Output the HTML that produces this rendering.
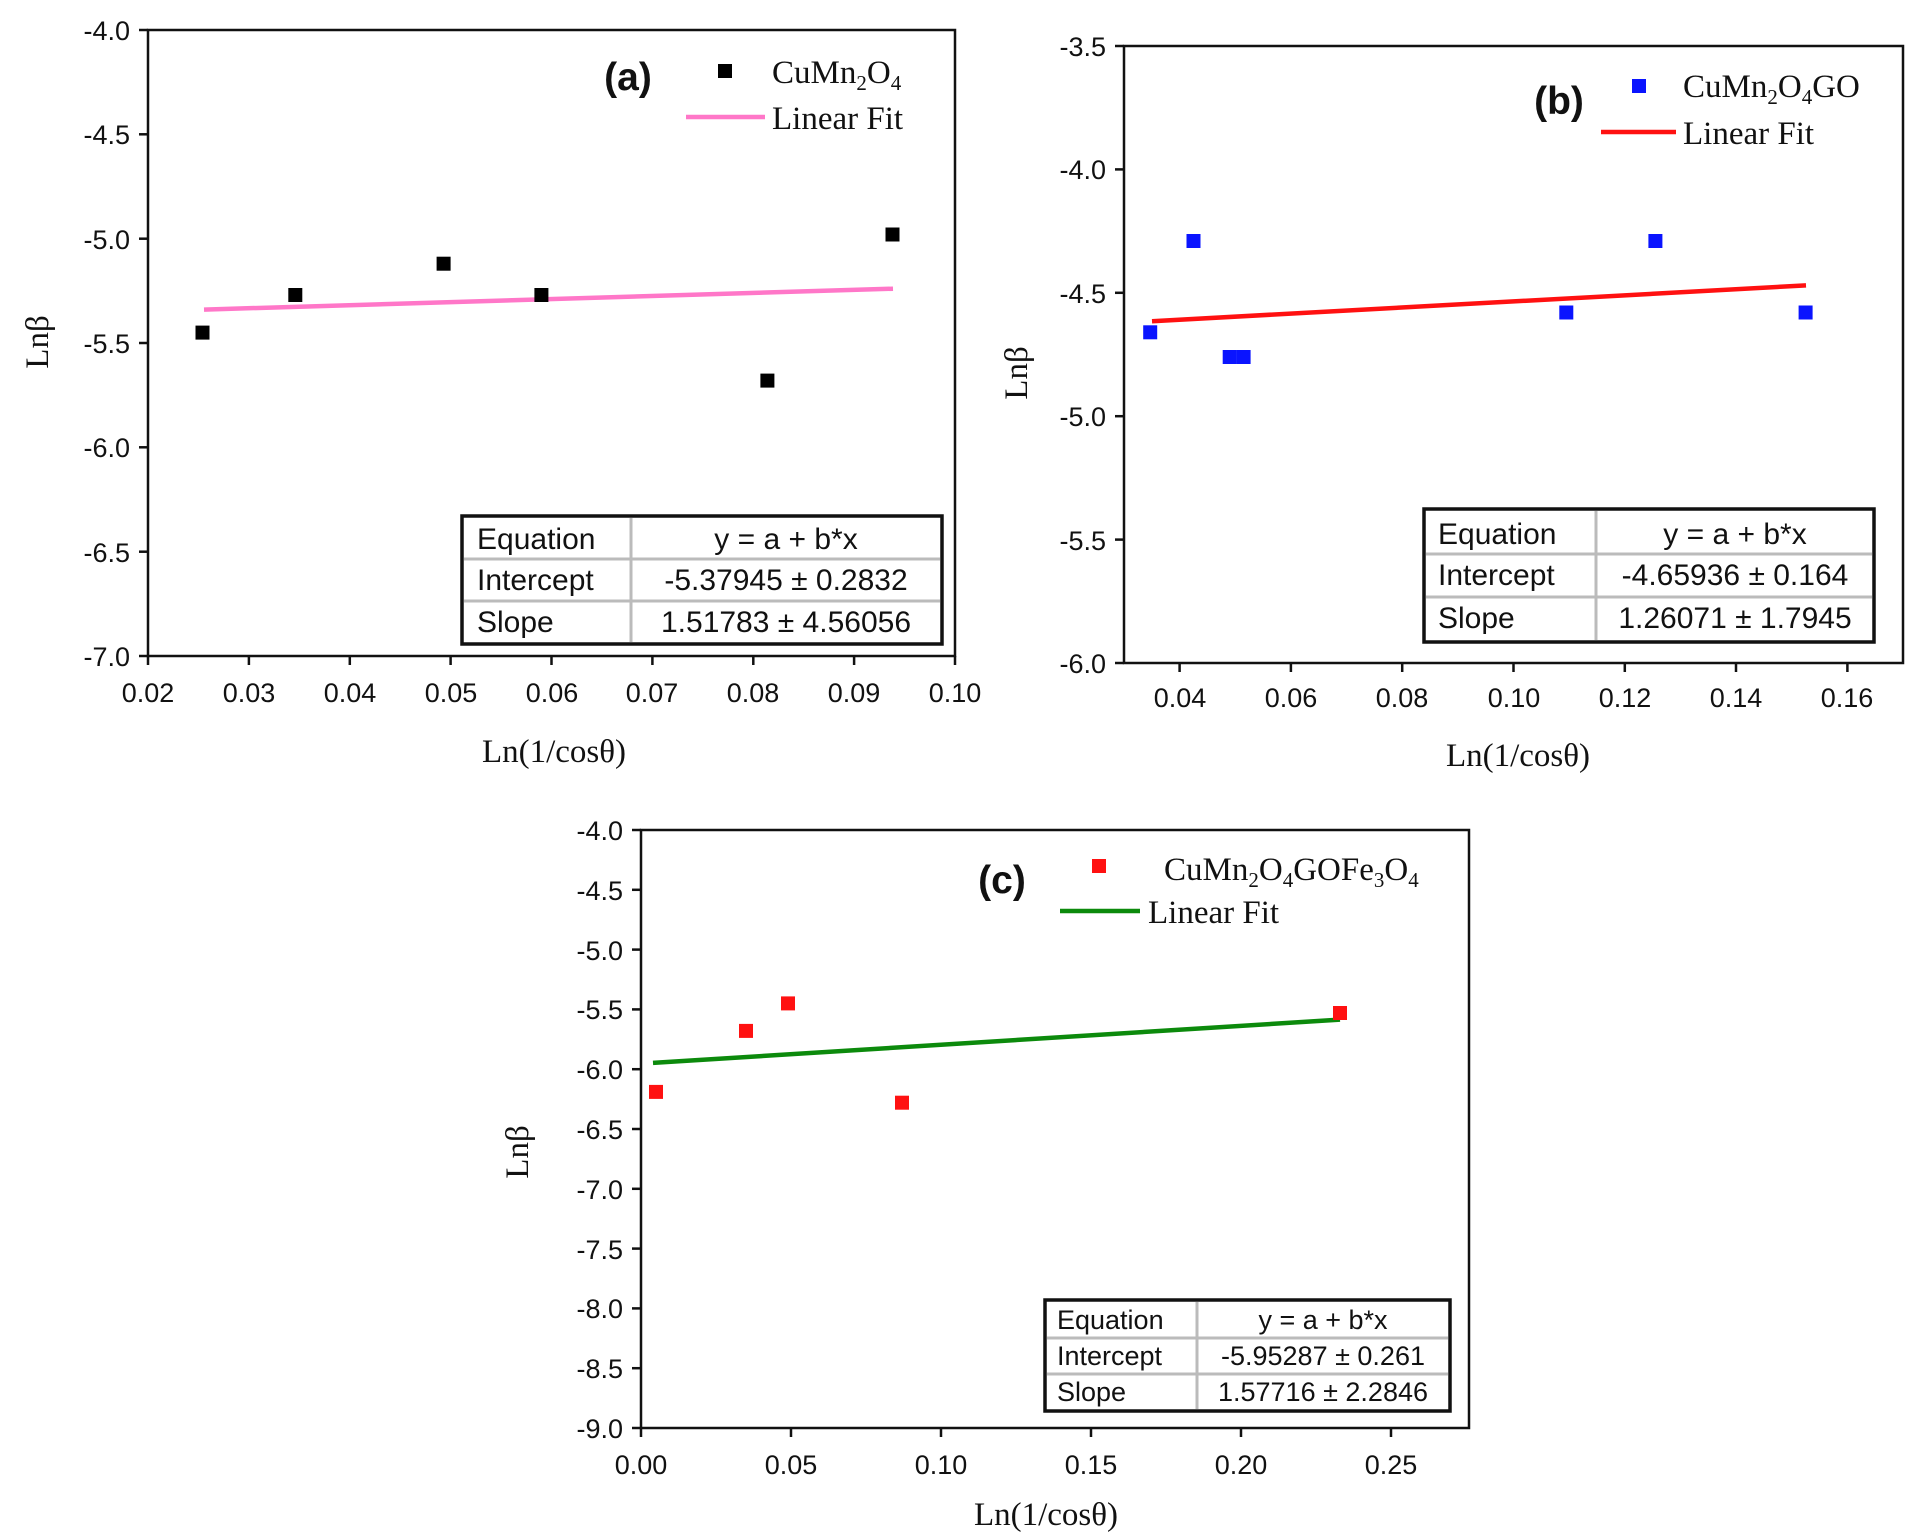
<!DOCTYPE html>
<html><head><meta charset="utf-8"><style>
html,body{margin:0;padding:0;background:#fff}
svg{display:block}
.t{font-family:"Liberation Sans",sans-serif;font-size:27px;fill:#111}
.s{font-family:"Liberation Serif",serif;font-size:33px;fill:#111}
.tb{font-family:"Liberation Sans",sans-serif;font-size:30px;fill:#111}
.tc{font-family:"Liberation Sans",sans-serif;font-size:27px;fill:#111}
.b{font-family:"Liberation Sans",sans-serif;font-size:39px;font-weight:bold;fill:#111}
</style></head><body>
<svg width="1928" height="1538" viewBox="0 0 1928 1538" xmlns="http://www.w3.org/2000/svg">
<rect width="1928" height="1538" fill="#fff"/>

<!-- Panel a -->
<g>
<rect x="148" y="30" width="807" height="626" fill="none" stroke="#111" stroke-width="2.5"/>
<g stroke="#111" stroke-width="2.5">
<line x1="148" y1="656" x2="148" y2="665"/><line x1="248.9" y1="656" x2="248.9" y2="665"/><line x1="349.8" y1="656" x2="349.8" y2="665"/><line x1="450.6" y1="656" x2="450.6" y2="665"/><line x1="551.5" y1="656" x2="551.5" y2="665"/><line x1="652.4" y1="656" x2="652.4" y2="665"/><line x1="753.3" y1="656" x2="753.3" y2="665"/><line x1="854.1" y1="656" x2="854.1" y2="665"/><line x1="955" y1="656" x2="955" y2="665"/>
<line x1="139" y1="30" x2="148" y2="30"/><line x1="139" y1="134.3" x2="148" y2="134.3"/><line x1="139" y1="238.7" x2="148" y2="238.7"/><line x1="139" y1="343" x2="148" y2="343"/><line x1="139" y1="447.3" x2="148" y2="447.3"/><line x1="139" y1="551.7" x2="148" y2="551.7"/><line x1="139" y1="656" x2="148" y2="656"/>
</g>
<g class="t" text-anchor="end">
<text x="130" y="40">-4.0</text><text x="130" y="144">-4.5</text><text x="130" y="249">-5.0</text><text x="130" y="353">-5.5</text><text x="130" y="457">-6.0</text><text x="130" y="562">-6.5</text><text x="130" y="666">-7.0</text>
</g>
<g class="t" text-anchor="middle">
<text x="148" y="702">0.02</text><text x="249" y="702">0.03</text><text x="350" y="702">0.04</text><text x="451" y="702">0.05</text><text x="552" y="702">0.06</text><text x="652" y="702">0.07</text><text x="753" y="702">0.08</text><text x="854" y="702">0.09</text><text x="955" y="702">0.10</text>
</g>
<text class="s" x="554" y="762" text-anchor="middle">Ln(1/cosθ)</text>
<text class="s" transform="translate(48,342) rotate(-90)" text-anchor="middle">Lnβ</text>
<line x1="204" y1="309.6" x2="893" y2="288.7" stroke="#ff77c8" stroke-width="4.5"/>
<g fill="#000">
<rect x="195.5" y="325.6" width="14" height="14"/><rect x="288.3" y="288" width="14" height="14"/><rect x="436.6" y="256.7" width="14" height="14"/><rect x="534.4" y="288" width="14" height="14"/><rect x="760.4" y="373.6" width="14" height="14"/><rect x="885.5" y="227.5" width="14" height="14"/>
</g>
<text class="b" x="628" y="90" text-anchor="middle">(a)</text>
<rect x="718" y="64" width="14" height="14" fill="#000"/>
<text class="s" x="772" y="83">CuMn<tspan font-size="21" dy="7">2</tspan><tspan dy="-7">O</tspan><tspan font-size="21" dy="7">4</tspan></text>
<line x1="686" y1="117" x2="765" y2="117" stroke="#ff77c8" stroke-width="4.5"/>
<text class="s" x="772" y="129">Linear Fit</text>
<rect x="462" y="516" width="480" height="128" fill="#fff" stroke="#111" stroke-width="3.5"/>
<g stroke="#bbb" stroke-width="3"><line x1="631" y1="518" x2="631" y2="642"/><line x1="464" y1="559" x2="940" y2="559"/><line x1="464" y1="601" x2="940" y2="601"/></g>
<text class="tb" x="477" y="549">Equation</text><text class="tb" x="477" y="590">Intercept</text><text class="tb" x="477" y="632">Slope</text>
<text class="tb" x="786" y="549" text-anchor="middle">y = a + b*x</text><text class="tb" x="786" y="590" text-anchor="middle">-5.37945 ± 0.2832</text><text class="tb" x="786" y="632" text-anchor="middle">1.51783 ± 4.56056</text>
</g>

<!-- Panel b -->
<g>
<rect x="1124" y="46" width="779" height="617" fill="none" stroke="#111" stroke-width="2.5"/>
<g stroke="#111" stroke-width="2.5">
<line x1="1179.6" y1="663" x2="1179.6" y2="672"/><line x1="1290.9" y1="663" x2="1290.9" y2="672"/><line x1="1402.2" y1="663" x2="1402.2" y2="672"/><line x1="1513.5" y1="663" x2="1513.5" y2="672"/><line x1="1624.8" y1="663" x2="1624.8" y2="672"/><line x1="1736" y1="663" x2="1736" y2="672"/><line x1="1847.4" y1="663" x2="1847.4" y2="672"/>
<line x1="1115" y1="46" x2="1124" y2="46"/><line x1="1115" y1="169.4" x2="1124" y2="169.4"/><line x1="1115" y1="292.8" x2="1124" y2="292.8"/><line x1="1115" y1="416.2" x2="1124" y2="416.2"/><line x1="1115" y1="539.6" x2="1124" y2="539.6"/><line x1="1115" y1="663" x2="1124" y2="663"/>
</g>
<g class="t" text-anchor="end">
<text x="1106" y="56">-3.5</text><text x="1106" y="179">-4.0</text><text x="1106" y="303">-4.5</text><text x="1106" y="426">-5.0</text><text x="1106" y="550">-5.5</text><text x="1106" y="673">-6.0</text>
</g>
<g class="t" text-anchor="middle">
<text x="1180" y="707">0.04</text><text x="1291" y="707">0.06</text><text x="1402" y="707">0.08</text><text x="1514" y="707">0.10</text><text x="1625" y="707">0.12</text><text x="1736" y="707">0.14</text><text x="1847" y="707">0.16</text>
</g>
<text class="s" x="1518" y="766" text-anchor="middle">Ln(1/cosθ)</text>
<text class="s" transform="translate(1027,373) rotate(-90)" text-anchor="middle">Lnβ</text>
<line x1="1152" y1="321.2" x2="1806" y2="285.4" stroke="#ff1111" stroke-width="4.5"/>
<g fill="#0a14ff">
<rect x="1143.2" y="325.3" width="14" height="14"/><rect x="1186.5" y="234" width="14" height="14"/><rect x="1222.7" y="350" width="14" height="14"/><rect x="1236.6" y="350" width="14" height="14"/><rect x="1559.3" y="305.5" width="14" height="14"/><rect x="1648.4" y="234" width="14" height="14"/><rect x="1798.6" y="305.5" width="14" height="14"/>
</g>
<text class="b" x="1559" y="114" text-anchor="middle">(b)</text>
<rect x="1632" y="79" width="14" height="14" fill="#0a14ff"/>
<text class="s" x="1683" y="97">CuMn<tspan font-size="21" dy="7">2</tspan><tspan dy="-7">O</tspan><tspan font-size="21" dy="7">4</tspan><tspan dy="-7">GO</tspan></text>
<line x1="1601" y1="132" x2="1676" y2="132" stroke="#ff1111" stroke-width="4.5"/>
<text class="s" x="1683" y="144">Linear Fit</text>
<rect x="1424" y="509" width="450" height="133" fill="#fff" stroke="#111" stroke-width="3.5"/>
<g stroke="#bbb" stroke-width="3"><line x1="1596" y1="511" x2="1596" y2="640"/><line x1="1426" y1="554" x2="1872" y2="554"/><line x1="1426" y1="597" x2="1872" y2="597"/></g>
<text class="tb" x="1438" y="544">Equation</text><text class="tb" x="1438" y="585">Intercept</text><text class="tb" x="1438" y="628">Slope</text>
<text class="tb" x="1735" y="544" text-anchor="middle">y = a + b*x</text><text class="tb" x="1735" y="585" text-anchor="middle">-4.65936 ± 0.164</text><text class="tb" x="1735" y="628" text-anchor="middle">1.26071 ± 1.7945</text>
</g>

<!-- Panel c -->
<g>
<rect x="641" y="830" width="828" height="598" fill="none" stroke="#111" stroke-width="2.5"/>
<g stroke="#111" stroke-width="2.5">
<line x1="641" y1="1428" x2="641" y2="1437"/><line x1="791" y1="1428" x2="791" y2="1437"/><line x1="941" y1="1428" x2="941" y2="1437"/><line x1="1091" y1="1428" x2="1091" y2="1437"/><line x1="1241" y1="1428" x2="1241" y2="1437"/><line x1="1391" y1="1428" x2="1391" y2="1437"/>
<line x1="632" y1="830" x2="641" y2="830"/><line x1="632" y1="889.8" x2="641" y2="889.8"/><line x1="632" y1="949.6" x2="641" y2="949.6"/><line x1="632" y1="1009.4" x2="641" y2="1009.4"/><line x1="632" y1="1069.2" x2="641" y2="1069.2"/><line x1="632" y1="1129" x2="641" y2="1129"/><line x1="632" y1="1188.8" x2="641" y2="1188.8"/><line x1="632" y1="1248.6" x2="641" y2="1248.6"/><line x1="632" y1="1308.4" x2="641" y2="1308.4"/><line x1="632" y1="1368.2" x2="641" y2="1368.2"/><line x1="632" y1="1428" x2="641" y2="1428"/>
</g>
<g class="t" text-anchor="end">
<text x="623" y="840">-4.0</text><text x="623" y="900">-4.5</text><text x="623" y="960">-5.0</text><text x="623" y="1019">-5.5</text><text x="623" y="1079">-6.0</text><text x="623" y="1139">-6.5</text><text x="623" y="1199">-7.0</text><text x="623" y="1259">-7.5</text><text x="623" y="1318">-8.0</text><text x="623" y="1378">-8.5</text><text x="623" y="1438">-9.0</text>
</g>
<g class="t" text-anchor="middle">
<text x="641" y="1474">0.00</text><text x="791" y="1474">0.05</text><text x="941" y="1474">0.10</text><text x="1091" y="1474">0.15</text><text x="1241" y="1474">0.20</text><text x="1391" y="1474">0.25</text>
</g>
<text class="s" x="1046" y="1525" text-anchor="middle">Ln(1/cosθ)</text>
<text class="s" transform="translate(528,1152) rotate(-90)" text-anchor="middle">Lnβ</text>
<line x1="653" y1="1062.9" x2="1340" y2="1019.6" stroke="#0c8a0c" stroke-width="4.5"/>
<g fill="#ff1111">
<rect x="649" y="1084.9" width="14" height="14"/><rect x="739" y="1023.9" width="14" height="14"/><rect x="781" y="996.4" width="14" height="14"/><rect x="895" y="1095.7" width="14" height="14"/><rect x="1333" y="1006" width="14" height="14"/>
</g>
<text class="b" x="1002" y="893" text-anchor="middle">(c)</text>
<rect x="1092" y="859" width="14" height="14" fill="#ff1111"/>
<text class="s" x="1164" y="880">CuMn<tspan font-size="21" dy="7">2</tspan><tspan dy="-7">O</tspan><tspan font-size="21" dy="7">4</tspan><tspan dy="-7">GOFe</tspan><tspan font-size="21" dy="7">3</tspan><tspan dy="-7">O</tspan><tspan font-size="21" dy="7">4</tspan></text>
<line x1="1060" y1="911" x2="1140" y2="911" stroke="#0c8a0c" stroke-width="4.5"/>
<text class="s" x="1148" y="923">Linear Fit</text>
<rect x="1045" y="1300" width="405" height="111" fill="#fff" stroke="#111" stroke-width="3.5"/>
<g stroke="#bbb" stroke-width="3"><line x1="1197" y1="1302" x2="1197" y2="1409"/><line x1="1047" y1="1338" x2="1448" y2="1338"/><line x1="1047" y1="1374" x2="1448" y2="1374"/></g>
<text class="tc" x="1057" y="1329">Equation</text><text class="tc" x="1057" y="1365">Intercept</text><text class="tc" x="1057" y="1401">Slope</text>
<text class="tc" x="1323" y="1329" text-anchor="middle">y = a + b*x</text><text class="tc" x="1323" y="1365" text-anchor="middle">-5.95287 ± 0.261</text><text class="tc" x="1323" y="1401" text-anchor="middle">1.57716 ± 2.2846</text>
</g>
</svg>
</body></html>
